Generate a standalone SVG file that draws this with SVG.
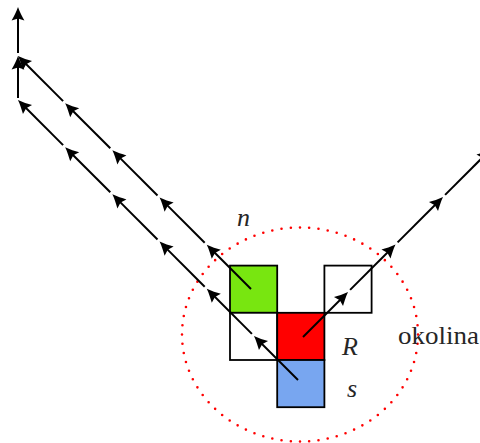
<svg xmlns="http://www.w3.org/2000/svg" width="480" height="443" viewBox="0 0 480 443">
<style>
.cell{stroke:#000;stroke-width:1.8}
.conn line{stroke:#000;stroke-width:2;marker-end:url(#ah)}
.lbl{fill:#262626;font-family:"Liberation Serif","DejaVu Serif",serif}
</style>
<defs>
<marker id="ah" markerUnits="userSpaceOnUse" orient="auto" refX="0" refY="0" markerWidth="16" markerHeight="16" overflow="visible">
<path d="M5,0 C0,-1.8 -4.5,-4.2 -8.5,-6.4 L-6.6,0 L-8.5,6.4 C-4.5,4.2 0,1.8 5,0 Z" fill="#000"/>
</marker>
</defs>
<rect width="480" height="443" fill="#fff"/>
<g id="cell-n"><rect class="cell" x="230" y="265.6" width="47.2" height="47.2" fill="#78e610"/></g>
<g id="cell-ne"><rect class="cell" x="324.4" y="265.6" width="47.2" height="47.2" fill="#fff"/></g>
<g id="cell-w"><rect class="cell" x="230" y="312.8" width="47.2" height="47.2" fill="#fff"/></g>
<g id="cell-R"><rect class="cell" x="277.2" y="312.8" width="47.2" height="47.2" fill="#ff0000"/></g>
<g id="cell-s"><rect class="cell" x="277.2" y="360" width="47.2" height="47.2" fill="#78a6f0"/></g>
<g id="okolina-circle"><ellipse cx="300" cy="334.5" rx="118" ry="107" fill="none" stroke="#ff0000" stroke-width="2.6" stroke-linecap="round" stroke-dasharray="0 9.3"/></g>
<g id="connectors" class="conn">
<line x1="251" y1="289" x2="210.3" y2="248.3"/>
<line x1="204.7" y1="242.7" x2="163.1" y2="201.1"/>
<line x1="157.5" y1="195.5" x2="115.9" y2="153.9"/>
<line x1="110.3" y1="148.3" x2="68.7" y2="106.7"/>
<line x1="63.1" y1="101.1" x2="21.5" y2="59.5"/>
<line x1="298" y1="380" x2="257.5" y2="339.5"/>
<line x1="251.9" y1="333.9" x2="210.3" y2="292.3"/>
<line x1="204.7" y1="286.7" x2="163.1" y2="245.1"/>
<line x1="157.5" y1="239.5" x2="115.9" y2="197.9"/>
<line x1="110.3" y1="192.3" x2="68.7" y2="150.7"/>
<line x1="63.1" y1="145.1" x2="21.5" y2="103.5"/>
<line x1="18" y1="98" x2="18" y2="61"/>
<line x1="18" y1="53" x2="18" y2="12"/>
<line x1="303" y1="337" x2="344.5" y2="295.5"/>
<line x1="350.1" y1="289.9" x2="392" y2="248"/>
<line x1="397.6" y1="242.4" x2="439.5" y2="200.5"/>
<line x1="445.1" y1="194.9" x2="487" y2="153"/>
</g>
<g id="labels">
<text class="lbl" font-style="italic" x="237" y="226" font-size="26">n</text>
<text class="lbl" font-style="italic" x="342" y="355" font-size="26">R</text>
<text class="lbl" font-style="italic" x="347" y="397" font-size="26">s</text>
<text class="lbl" x="398" y="344" font-size="25.5" textLength="81" lengthAdjust="spacingAndGlyphs">okolina</text>
</g>
</svg>
